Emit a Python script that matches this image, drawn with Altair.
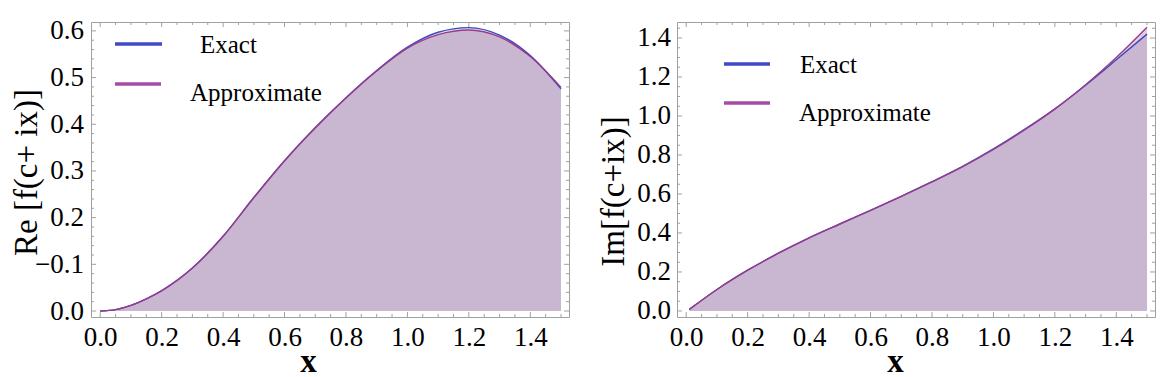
import altair as alt
import pandas as pd

# ---------------- data ----------------
# Left panel: Re[f(c+ix)]
re_x      = [0.0, 0.05, 0.1, 0.15, 0.2, 0.3, 0.4, 0.5, 0.6, 0.7, 0.8, 0.9, 1.0, 1.1, 1.2, 1.3, 1.4, 1.5]
re_exact  = [0.0, 0.003, 0.012, 0.026, 0.044, 0.092, 0.160, 0.243, 0.322, 0.393, 0.457, 0.515, 0.565, 0.597, 0.607, 0.591, 0.547, 0.476]
re_approx = [0.0, 0.003, 0.012, 0.026, 0.043, 0.092, 0.160, 0.243, 0.322, 0.392, 0.456, 0.514, 0.563, 0.592, 0.602, 0.587, 0.545, 0.479]

# Right panel: Im[f(c+ix)]
im_x      = [0.01, 0.1, 0.2, 0.3, 0.4, 0.5, 0.6, 0.7, 0.8, 0.9, 1.0, 1.1, 1.2, 1.3, 1.4, 1.5]
im_exact  = [0.008, 0.110, 0.209, 0.296, 0.375, 0.446, 0.516, 0.588, 0.663, 0.742, 0.831, 0.930, 1.037, 1.158, 1.288, 1.420]
im_approx = [0.008, 0.110, 0.209, 0.296, 0.375, 0.446, 0.516, 0.588, 0.662, 0.740, 0.828, 0.927, 1.035, 1.160, 1.300, 1.455]

legend_labels = ["Exact", "Approximate"]

# tick values and tick labels
x_major = [0.0, 0.2, 0.4, 0.6, 0.8, 1.0, 1.2, 1.4]
x_minor = [round(i * 0.05, 2) for i in range(31) if i % 4 != 0]
re_y_major = [0.0, 0.1, 0.2, 0.3, 0.4, 0.5, 0.6]
re_y_labels = ["0.0", "\u22120.1", "0.2", "0.3", "0.4", "0.5", "0.6"]
re_y_minor = [round(i * 0.02, 2) for i in range(31) if i % 5 != 0]
im_y_major = [0.0, 0.2, 0.4, 0.6, 0.8, 1.0, 1.2, 1.4]
im_y_labels = ["0.0", "0.2", "0.4", "0.6", "0.8", "1.0", "1.2", "1.4"]
im_y_minor = [round(i * 0.05, 2) for i in range(30) if i % 4 != 0]

# ---------------- styling ----------------
FONT = "Liberation Serif"
GREY = "#a0a0a0"
W, H = 478, 295
EXACT_FILL = "#7a8aba"
APPROX_FILL = "#8b377b"
EXACT_LINE = "#3f47c0"
APPROX_LINE = "#9a3b8a"
EXACT_LEG = "#4049c9"
APPROX_LEG = "#a64ca6"
XDOM = [-0.03, 1.526]


def label_expr(vals, labels):
    expr = "''"
    for v, l in reversed(list(zip(vals, labels))):
        expr = f"abs(datum.value-({v}))<1e-6 ? '{l}' : ({expr})"
    return expr


def panel(xv, ex, ap, ydom, ymaj, ylabels, ymin, ytitle, ytx, yty, ylabpad, xtx, leg):
    df = pd.DataFrame({"x": xv, "Exact": ex, "Approximate": ap})
    xs = alt.Scale(domain=XDOM, nice=False, zero=False)
    ys = alt.Scale(domain=ydom, nice=False, zero=False)
    xaxis = alt.Axis(values=x_major, format=".1f", ticks=False, tickSize=0, domain=False, grid=False,
                     labelFont=FONT, labelFontSize=27, labelColor="black", labelPadding=28,
                     labelBaseline="alphabetic", labelFlush=False, labelOverlap=False,
                     title="x", titleFont=FONT, titleFontSize=33, titleFontWeight="bold",
                     titleColor="black", titleX=xtx, titleY=54, titleBaseline="alphabetic",
                     titleAlign="center")
    yaxis = alt.Axis(values=ymaj, labelExpr=label_expr(ymaj, ylabels), ticks=False, tickSize=0,
                     domain=False, grid=False, labelFont=FONT, labelFontSize=27, labelColor="black",
                     labelPadding=ylabpad, labelFlush=False, labelOverlap=False,
                     title=ytitle, titleFont=FONT, titleFontSize=33, titleFontWeight="normal",
                     titleColor="black", titleX=ytx, titleY=yty, titleAngle=270,
                     titleBaseline="middle", titleAlign="center")
    base = alt.Chart(df)
    X = alt.X("x:Q", scale=xs, axis=xaxis)
    layers = [
        base.mark_area(color=EXACT_FILL, opacity=0.25, interpolate="monotone").encode(
            x=X, y=alt.Y("Exact:Q", scale=ys, axis=yaxis), y2=alt.datum(0)),
        base.mark_area(color=APPROX_FILL, opacity=0.25, interpolate="monotone").encode(
            x=X, y=alt.Y("Approximate:Q", scale=ys, axis=yaxis), y2=alt.datum(0)),
        base.mark_line(color=EXACT_LINE, strokeWidth=1.4, interpolate="monotone").encode(
            x=X, y=alt.Y("Exact:Q", scale=ys, axis=yaxis)),
        base.mark_line(color=APPROX_LINE, strokeWidth=1.4, interpolate="monotone").encode(
            x=X, y=alt.Y("Approximate:Q", scale=ys, axis=yaxis)),
    ]
    # frame ticks pointing inward
    for vals, ln in ((x_major, 5), (x_minor, 3)):
        d = alt.Chart(pd.DataFrame({"t": vals}))
        layers.append(d.mark_rule(color=GREY, strokeWidth=1).encode(
            x=alt.X("t:Q", scale=xs, axis=xaxis), y=alt.value(H), y2=alt.value(H - ln)))
        layers.append(d.mark_rule(color=GREY, strokeWidth=1).encode(
            x=alt.X("t:Q", scale=xs, axis=xaxis), y=alt.value(0), y2=alt.value(ln)))
    for vals, ln in ((ymaj, 5), (ymin, 3)):
        d = alt.Chart(pd.DataFrame({"t": vals}))
        layers.append(d.mark_rule(color=GREY, strokeWidth=1).encode(
            y=alt.Y("t:Q", scale=ys, axis=yaxis), x=alt.value(0), x2=alt.value(ln)))
        layers.append(d.mark_rule(color=GREY, strokeWidth=1).encode(
            y=alt.Y("t:Q", scale=ys, axis=yaxis), x=alt.value(W), x2=alt.value(W - ln)))
    # legend
    for (name, col), (lx0, lx1, ly, tx, ty) in zip(zip(legend_labels, [EXACT_LEG, APPROX_LEG]), leg):
        d = alt.Chart(pd.DataFrame({"label": [name]}))
        layers.append(d.mark_rule(color=col, strokeWidth=3.5).encode(
            x=alt.value(lx0), x2=alt.value(lx1), y=alt.value(ly)))
        layers.append(d.mark_text(align="left", baseline="alphabetic", font=FONT, fontSize=25,
                                  color="black").encode(text="label:N", x=alt.value(tx), y=alt.value(ty)))
    return alt.layer(*layers).properties(width=W, height=H)


left = panel(re_x, re_exact, re_approx, [-0.0128, 0.619], re_y_major, re_y_labels, re_y_minor,
             "Re [f(c+ ix)]", -64.3, 150, 7.6, 217,
             [(24, 71, 22, 109, 31), (24, 70, 62, 99, 79)])
right = panel(im_x, im_exact, im_approx, [-0.031, 1.482], im_y_major, im_y_labels, im_y_minor,
              "Im[f(c+ix)]", -63.7, 169, 6.4, 218,
              [(47, 93, 42, 123, 51), (47, 93, 81, 122, 99)])

chart = alt.hconcat(left, right, spacing=26).properties(
    padding={"left": 2, "top": 8, "right": 0, "bottom": 4},
    background="white",
).configure_view(stroke=GREY, strokeWidth=1)

chart.save("out.html", embed_options={"renderer": "svg", "actions": False})
